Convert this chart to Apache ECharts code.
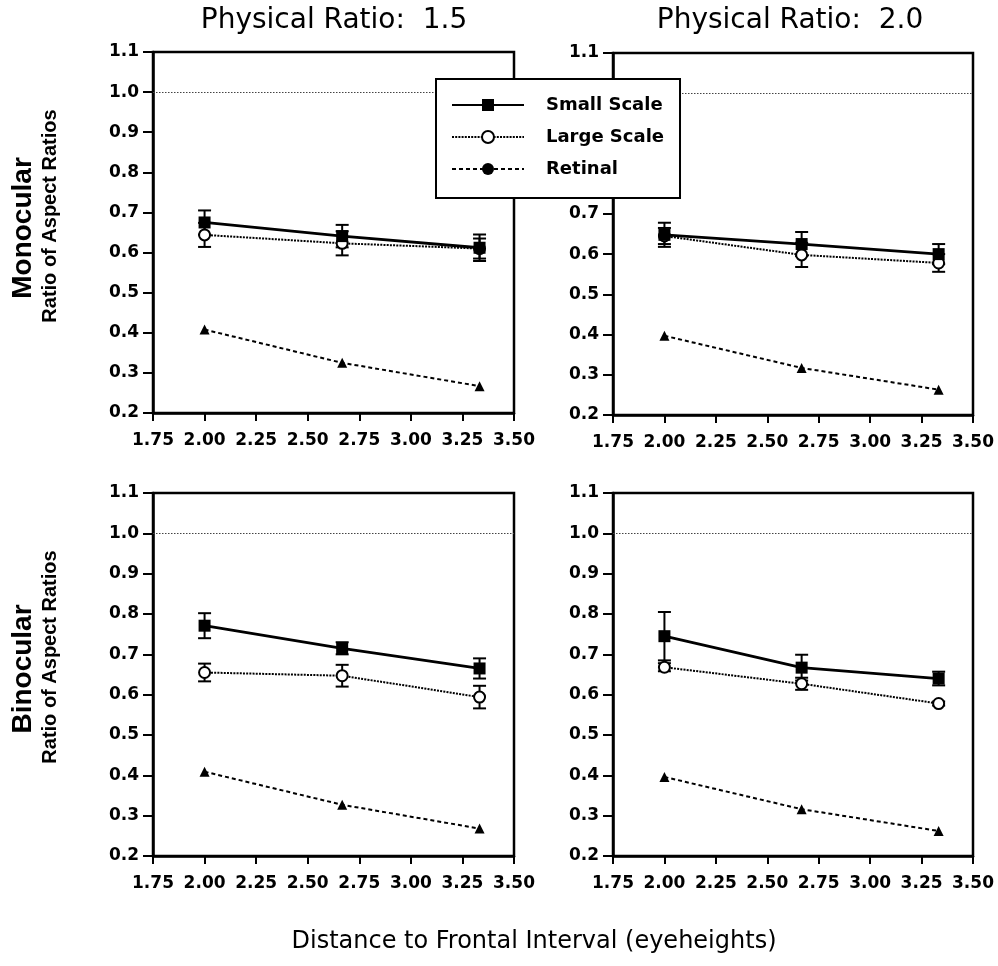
<!DOCTYPE html>
<html>
<head>
<meta charset="utf-8">
<script src="https://cdn.jsdelivr.net/npm/echarts@6/dist/echarts.min.js"></script>
<style>
  html, body { margin: 0; padding: 0; background: #fff; }
  #chart { width: 998px; height: 966px; }
</style>
</head>
<body>
<div id="chart"></div>
<script>
// ---- data ----
const distances = [2.0, 2.667, 3.333];            // Distance to frontal interval (eyeheights)
const xTicks = { min: 1.75, max: 3.5, interval: 0.25 };
const yTicks = { min: 0.2, max: 1.1, interval: 0.1 };
const referenceLevel = 1.0;

const seriesNames = ['Small Scale', 'Large Scale', 'Retinal'];
const panelTitles = ['Physical Ratio:  1.5', 'Physical Ratio:  2.0'];
const rowTitles = ['Monocular', 'Binocular'];
const yAxisTitle = 'Ratio of Aspect Ratios';
const xAxisTitle = 'Distance to Frontal Interval (eyeheights)';

// Monocular, physical ratio 1.5
const monoR15Small    = [0.675, 0.641, 0.612];
const monoR15SmallErr = [0.030, 0.028, 0.033];
const monoR15Large    = [0.644, 0.623, 0.610];
const monoR15LargeErr = [0.030, 0.030, 0.025];
const monoR15Retinal  = [0.408, 0.325, 0.267];

// Monocular, physical ratio 2.0
const monoR20Small    = [0.648, 0.625, 0.600];
const monoR20SmallErr = [0.030, 0.030, 0.025];
const monoR20Large    = [0.645, 0.598, 0.578];
const monoR20LargeErr = [0.020, 0.030, 0.022];
const monoR20Retinal  = [0.397, 0.317, 0.263];

// Binocular, physical ratio 1.5
const binoR15Small    = [0.771, 0.715, 0.665];
const binoR15SmallErr = [0.031, 0.015, 0.025];
const binoR15Large    = [0.655, 0.647, 0.594];
const binoR15LargeErr = [0.022, 0.027, 0.028];
const binoR15Retinal  = [0.409, 0.327, 0.268];

// Binocular, physical ratio 2.0
const binoR20Small    = [0.745, 0.667, 0.640];
const binoR20SmallErr = [0.060, 0.032, 0.017];
const binoR20Large    = [0.668, 0.627, 0.578];
const binoR20LargeErr = [0.010, 0.015, 0.005];
const binoR20Retinal  = [0.396, 0.316, 0.262];

// ---- layout ----
const panels = [
  { grid: { left: 153, top: 52,  width: 361, height: 361 }, small: monoR15Small, smallErr: monoR15SmallErr, large: monoR15Large, largeErr: monoR15LargeErr, retinal: monoR15Retinal },
  { grid: { left: 613, top: 53,  width: 360, height: 362 }, small: monoR20Small, smallErr: monoR20SmallErr, large: monoR20Large, largeErr: monoR20LargeErr, retinal: monoR20Retinal },
  { grid: { left: 153, top: 493, width: 361, height: 363 }, small: binoR15Small, smallErr: binoR15SmallErr, large: binoR15Large, largeErr: binoR15LargeErr, retinal: binoR15Retinal },
  { grid: { left: 613, top: 493, width: 360, height: 363 }, small: binoR20Small, smallErr: binoR20SmallErr, large: binoR20Large, largeErr: binoR20LargeErr, retinal: binoR20Retinal }
];

const tickFont = { fontFamily: 'DejaVu Sans', fontWeight: 'bold', fontSize: 17, color: '#000' };

function pts(vals) { return distances.map((x, i) => [x, vals[i]]); }
function errPts(vals, errs) { return distances.map((x, i) => [x, vals[i] - errs[i], vals[i] + errs[i]]); }

function renderErr(params, api) {
  const x = api.value(0), lo = api.value(1), hi = api.value(2);
  const a = api.coord([x, lo]), b = api.coord([x, hi]);
  const hw = 6.5;
  const st = { stroke: '#000', lineWidth: 2 };
  return {
    type: 'group',
    children: [
      { type: 'line', shape: { x1: a[0], y1: a[1], x2: b[0], y2: b[1] }, style: st },
      { type: 'line', shape: { x1: a[0] - hw, y1: a[1], x2: a[0] + hw, y2: a[1] }, style: st },
      { type: 'line', shape: { x1: b[0] - hw, y1: b[1], x2: b[0] + hw, y2: b[1] }, style: st }
    ]
  };
}

const grids = [], xAxes = [], yAxes = [], series = [];

// legend icon helper for Retinal (legend shows a dot)
series.push({
  type: 'line', name: seriesNames[2], xAxisIndex: 0, yAxisIndex: 0, data: [],
  symbol: 'circle', symbolSize: 10, itemStyle: { color: '#000' },
  lineStyle: { color: '#000', width: 2, type: [4, 3] }
});

panels.forEach((p, i) => {
  grids.push(Object.assign({ show: true, borderColor: '#000', borderWidth: 2.5, backgroundColor: 'transparent' }, p.grid));
  xAxes.push({
    type: 'value', gridIndex: i, min: xTicks.min, max: xTicks.max, interval: xTicks.interval,
    axisLine: { show: true, onZero: false, lineStyle: { color: '#000', width: 2.5 } },
    axisTick: { show: true, inside: false, length: 8, lineStyle: { color: '#000', width: 2 } },
    axisLabel: Object.assign({ margin: 19, formatter: v => v.toFixed(2) }, tickFont),
    splitLine: { show: false }
  });
  yAxes.push({
    type: 'value', gridIndex: i, min: yTicks.min, max: yTicks.max, interval: yTicks.interval,
    axisLine: { show: true, onZero: false, lineStyle: { color: '#000', width: 2.5 } },
    axisTick: { show: true, inside: false, length: 10, lineStyle: { color: '#000', width: 2 } },
    axisLabel: Object.assign({ margin: 14, formatter: v => v.toFixed(1) }, tickFont),
    splitLine: { show: false }
  });

  // error bars
  series.push({ type: 'custom', name: 'errLarge' + i, xAxisIndex: i, yAxisIndex: i, renderItem: renderErr,
    encode: { x: 0, y: [1, 2] }, data: errPts(p.large, p.largeErr), z: 2 });
  series.push({ type: 'custom', name: 'errSmall' + i, xAxisIndex: i, yAxisIndex: i, renderItem: renderErr,
    encode: { x: 0, y: [1, 2] }, data: errPts(p.small, p.smallErr), z: 2 });

  // retinal (with reference line at 1.0)
  series.push({
    type: 'line', name: seriesNames[2], xAxisIndex: i, yAxisIndex: i, data: pts(p.retinal), z: 3,
    symbol: 'triangle', symbolSize: 10, itemStyle: { color: '#000' },
    lineStyle: { color: '#000', width: 2, type: [4, 3] },
    markLine: {
      silent: true, symbol: ['none', 'none'], label: { show: false },
      lineStyle: { color: '#444', width: 1, type: [1.5, 1.5] },
      data: [{ yAxis: referenceLevel }]
    }
  });
  // large scale
  series.push({
    type: 'line', name: seriesNames[1], xAxisIndex: i, yAxisIndex: i, data: pts(p.large), z: 3,
    symbol: 'circle', symbolSize: 11,
    itemStyle: { color: '#fff', borderColor: '#000', borderWidth: 2 },
    lineStyle: { color: '#000', width: 2, type: [2, 1.2] }
  });
  // small scale
  series.push({
    type: 'line', name: seriesNames[0], xAxisIndex: i, yAxisIndex: i, data: pts(p.small), z: 4,
    symbol: 'rect', symbolSize: 12, itemStyle: { color: '#000' },
    lineStyle: { color: '#000', width: 2.8, type: 'solid' }
  });
});

const graphics = [
  { type: 'text', x: 334, y: 21, style: { text: panelTitles[0], font: '28px "DejaVu Sans"', fill: '#000', textAlign: 'center', textVerticalAlign: 'middle' } },
  { type: 'text', x: 790, y: 21, style: { text: panelTitles[1], font: '28px "DejaVu Sans"', fill: '#000', textAlign: 'center', textVerticalAlign: 'middle' } },
  { type: 'text', x: 23, y: 228, rotation: Math.PI / 2, style: { text: rowTitles[0], font: 'bold 28px "Liberation Sans"', fill: '#000', textAlign: 'center', textVerticalAlign: 'middle' } },
  { type: 'text', x: 50, y: 216, rotation: Math.PI / 2, style: { text: yAxisTitle, font: 'bold 20px "Liberation Sans"', fill: '#000', textAlign: 'center', textVerticalAlign: 'middle' } },
  { type: 'text', x: 23, y: 669, rotation: Math.PI / 2, style: { text: rowTitles[1], font: 'bold 28px "Liberation Sans"', fill: '#000', textAlign: 'center', textVerticalAlign: 'middle' } },
  { type: 'text', x: 50, y: 657, rotation: Math.PI / 2, style: { text: yAxisTitle, font: 'bold 20px "Liberation Sans"', fill: '#000', textAlign: 'center', textVerticalAlign: 'middle' } },
  { type: 'text', x: 534, y: 942, style: { text: xAxisTitle, font: '24px "DejaVu Sans"', fill: '#000', textAlign: 'center', textVerticalAlign: 'middle' } }
];

const chart = echarts.init(document.getElementById('chart'), null, { renderer: 'canvas' });
chart.setOption({
  animation: false,
  backgroundColor: '#fff',
  grid: grids,
  xAxis: xAxes,
  yAxis: yAxes,
  legend: {
    left: 436, top: 79, orient: 'vertical',
    data: seriesNames,
    itemWidth: 72, itemHeight: 15, itemGap: 14,
    padding: [17, 16, 20, 15],
    borderColor: '#000', borderWidth: 2, backgroundColor: '#fff',
    selectedMode: false,
    itemStyle: { borderWidth: 'inherit' },
    textStyle: { fontFamily: 'DejaVu Sans', fontWeight: 'bold', fontSize: 18, color: '#000', padding: [0, 0, 0, 17] },
    z: 10
  },
  graphic: graphics,
  series: series
});
</script>
</body>
</html>
